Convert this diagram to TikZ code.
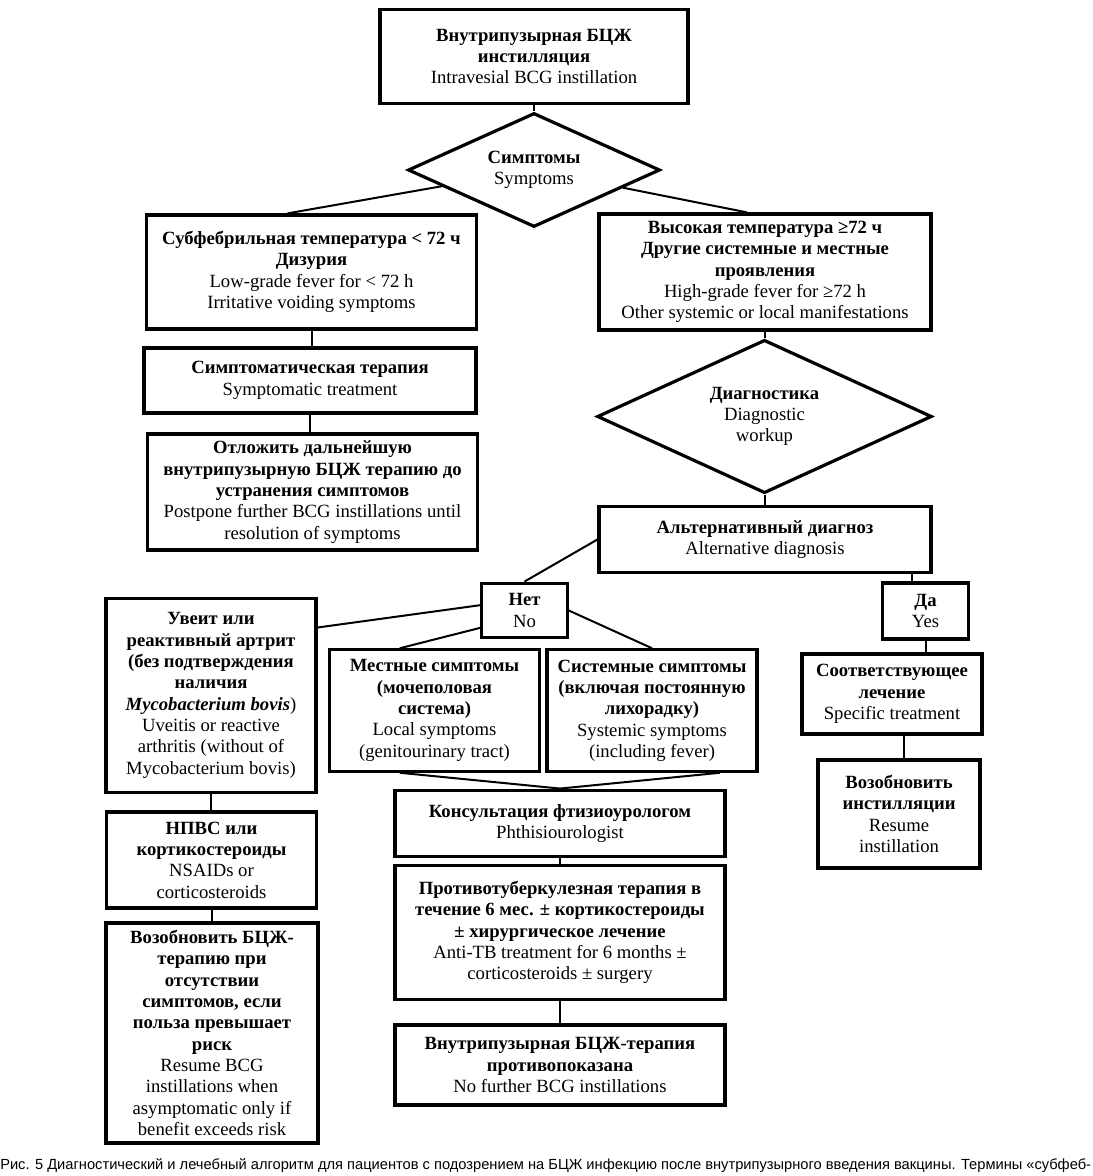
\documentclass[tikz,border=0pt]{standalone}
\usepackage{fontspec}
\setmainfont{Liberation Serif}
\newfontfamily\capfont{Liberation Sans}
\usetikzlibrary{shapes.geometric}

\tikzset{
  box/.style={draw, line width=2.4pt, align=center, inner sep=2pt,
    font=\fontsize{14}{16}\selectfont},
  choice/.style={diamond, draw, line width=2.4pt, align=center, inner sep=0pt,
    aspect=2.2, font=\fontsize{14}{16}\selectfont},
  link/.style={line width=1.5pt},
}

\begin{document}
\begin{tikzpicture}[x=0.75pt, y=-0.75pt]
  \useasboundingbox (0,0) rectangle (1092,1176);

  % start and first decision
  \node[box, minimum width=231pt, minimum height=71pt] (bcg) at (534,56.5)
    {\textbf{Внутрипузырная БЦЖ}\\\textbf{инстилляция}\\Intravesial BCG instillation};
  \node[choice, minimum width=189pt, minimum height=85.5pt] (sym) at (534,170)
    {\textbf{Симптомы}\\Symptoms};

  % mild branch
  \node[box, minimum width=248pt, minimum height=85.5pt] (sub) at (311.5,272)
    {\textbf{Субфебрильная температура < 72 ч}\\\textbf{Дизурия}\\Low-grade fever for < 72 h\\Irritative voiding symptoms};
  \node[box, minimum width=249pt, minimum height=48.75pt] (symtr) at (310,380.5)
    {\textbf{Симптоматическая терапия}\\Symptomatic treatment};
  \node[box, minimum width=248pt, minimum height=87pt] (postp) at (312.5,492)
    {\textbf{Отложить дальнейшую}\\\textbf{внутрипузырную БЦЖ терапию до}\\\textbf{устранения симптомов}\\Postpone further BCG instillations until\\resolution of symptoms};

  % severe branch
  \node[box, minimum width=249pt, minimum height=87pt] (high) at (765,272)
    {\textbf{Высокая температура ≥72 ч}\\\textbf{Другие системные и местные}\\\textbf{проявления}\\High-grade fever for ≥72 h\\Other systemic or local manifestations};
  \node[choice, minimum width=251pt, minimum height=115pt] (diag) at (764.5,416.5)
    {\textbf{Диагностика}\\Diagnostic\\workup};
  \node[box, minimum width=249pt, minimum height=50pt] (alt) at (765,539.5)
    {\textbf{Альтернативный диагноз}\\Alternative diagnosis};
  \node[box, minimum width=64pt, minimum height=41pt] (no) at (524.5,610.5)
    {\textbf{Нет}\\No};
  \node[box, minimum width=64pt, minimum height=42pt] (yes) at (925.5,611)
    {\textbf{Да}\\Yes};

  % no: three groups
  \node[box, minimum width=157.5pt, minimum height=145pt] (uveit) at (211,695.5)
    {\textbf{Увеит или}\\\textbf{реактивный артрит}\\\textbf{(без подтверждения}\\\textbf{наличия}\\\textbf{\textit{Mycobacterium bovis}})\\Uveitis or reactive\\arthritis (without of\\Mycobacterium bovis)};
  \node[box, minimum width=157pt, minimum height=91pt] (local) at (434.5,710.5)
    {\textbf{Местные симптомы}\\\textbf{(мочеполовая}\\\textbf{система)}\\Local symptoms\\(genitourinary tract)};
  \node[box, minimum width=157.5pt, minimum height=91pt] (syst) at (652,710.5)
    {\textbf{Системные симптомы}\\\textbf{(включая постоянную}\\\textbf{лихорадку)}\\Systemic symptoms\\(including fever)};
  \node[box, minimum width=158pt, minimum height=72pt] (nsaid) at (211.5,860)
    {\textbf{НПВС или}\\\textbf{кортикостероиды}\\NSAIDs or\\corticosteroids};
  \node[box, minimum width=159pt, minimum height=165pt] (resbcg) at (212,1033)
    {\textbf{Возобновить БЦЖ-}\\\textbf{терапию при}\\\textbf{отсутствии}\\\textbf{симптомов, если}\\\textbf{польза превышает}\\\textbf{риск}\\Resume BCG\\instillations when\\asymptomatic only if\\benefit exceeds risk};
  \node[box, minimum width=247.5pt, minimum height=50pt] (cons) at (560,823.5)
    {\textbf{Консультация фтизиоурологом}\\Phthisiourologist};
  \node[box, minimum width=247.5pt, minimum height=101pt] (antitb) at (560,932.5)
    {\textbf{Противотуберкулезная терапия в}\\\textbf{течение 6 мес. ± кортикостероиды}\\\textbf{± хирургическое лечение}\\Anti-TB treatment for 6 months ±\\corticosteroids ± surgery};
  \node[box, minimum width=247.5pt, minimum height=60pt] (contra) at (560,1065)
    {\textbf{Внутрипузырная БЦЖ-терапия}\\\textbf{противопоказана}\\No further BCG instillations};

  % yes
  \node[box, minimum width=135pt, minimum height=60pt] (spec) at (892,694)
    {\textbf{Соответствующее}\\\textbf{лечение}\\Specific treatment};
  \node[box, minimum width=121.5pt, minimum height=81pt] (resume) at (899,814)
    {\textbf{Возобновить}\\\textbf{инстилляции}\\Resume\\instillation};

  % connectors
  \draw[link] (bcg.south) -- (sym.north);
  \draw[link] (sym) -- ([xshift=-18pt]sub.north);
  \draw[link] (sym) -- ([xshift=-13.5pt]high.north);
  \draw[link] (sub.south) -- (sub.south |- symtr.north);
  \draw[link] (symtr.south) -- (symtr.south |- postp.north);
  \draw[link] (high.south) -- (high.south |- diag.north);
  \draw[link] (diag.south) -- (diag.south |- alt.north);
  \draw[link] (alt.west) -- (no.north);
  \coordinate (yestop) at ([xshift=-10pt]yes.north);
  \draw[link] (yestop) -- (yestop |- alt.south);
  \draw[link] (yes.south) -- (yes.south |- spec.north);
  \coordinate (spectail) at ([xshift=9pt]spec.south);
  \draw[link] (spectail) -- (spectail |- resume.north);
  \draw[link] ([yshift=4pt]no.west) -- ([yshift=51pt]uveit.east);
  \draw[link] ([yshift=-13pt]no.west) -- ([xshift=-26pt]local.north);
  \draw[link] (no.east) -- (syst.north);
  \draw[link] ([xshift=-26pt]local.south) -- (cons.north);
  \draw[link] ([xshift=51pt]syst.south) -- (cons.north);
  \draw[link] (uveit.south) -- (uveit.south |- nsaid.north);
  \draw[link] (nsaid.south) -- (nsaid.south |- resbcg.north);
  \draw[link] (cons.south) -- (antitb.north);
  \draw[link] (antitb.south) -- (contra.north);

  % caption
  \node[anchor=west, inner sep=0pt, font=\capfont\fontsize{11}{12}\selectfont] (cap) at (0,1166)
    {Рис. 5 Диагностический и лечебный алгоритм для пациентов с подозрением на БЦЖ инфекцию после внутрипузырного введения вакцины. Термины «субфеб-};
\end{tikzpicture}
\end{document}
